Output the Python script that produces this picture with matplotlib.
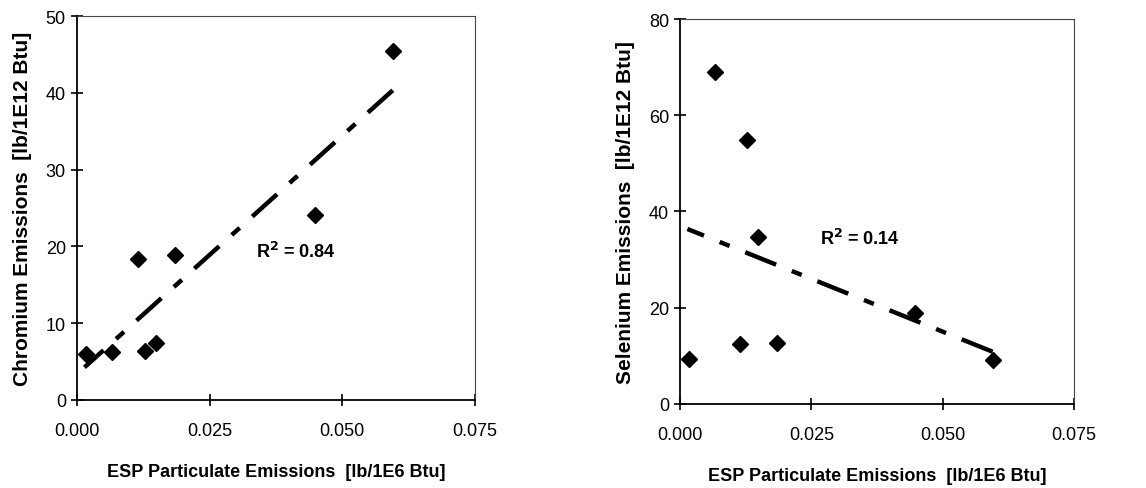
import numpy as np
import matplotlib
matplotlib.use("Agg")
import matplotlib.pyplot as plt

plt.rcParams['font.family'] = ['Liberation Sans', 'DejaVu Sans']

# ESP particulate emissions [lb/1E6 Btu], shared by both panels
esp = [0.0017, 0.0066, 0.0114, 0.0128, 0.0149, 0.0185, 0.0448, 0.0595]

# chromium emissions [lb/1E12 Btu]
chromium = [5.98, 6.3, 18.3, 6.4, 7.4, 18.9, 24.1, 45.4]
# selenium emissions [lb/1E12 Btu]
selenium = [9.35, 69.0, 12.5, 54.9, 34.6, 12.6, 18.9, 9.2]

x_ticks = [0.0, 0.025, 0.05, 0.075]
x_labels = ['0.000', '0.025', '0.050', '0.075']
cr_ticks = [0, 10, 20, 30, 40, 50]
se_ticks = [0, 20, 40, 60, 80]

xlabel = 'ESP Particulate Emissions  [lb/1E6 Btu]'
panels = [
    (chromium, cr_ticks, 'Chromium Emissions  [lb/1E12 Btu]', '0.84', (0.0338, 19.4)),
    (selenium, se_ticks, 'Selenium Emissions  [lb/1E12 Btu]', '0.14', (0.0266, 34.4)),
]
positions = [[0.0672, 0.180, 0.3473, 0.785], [0.5934, 0.172, 0.3438, 0.787]]

fig = plt.figure(figsize=(11.46, 4.89), dpi=100)

for (yvals, yticks, ylabel, r2, txt_pos), pos in zip(panels, positions):
    ax = fig.add_axes(pos)
    x = np.array(esp)
    y = np.array(yvals)

    ax.plot(x, y, linestyle='none', marker='D', ms=8.2, color='black', zorder=3)

    # linear trendline, drawn from the right end so it finishes on a long dash
    m, b = np.polyfit(x, y, 1)
    xf = np.array([x.max(), x.min() - 0.0003])
    ax.plot(xf, m * xf + b, color='black', lw=3.2,
            dashes=(7.5, 3.8, 2.4, 3.8), solid_capstyle='butt')

    ax.text(txt_pos[0], txt_pos[1], r'R$^\mathbf{2}$ = ' + r2,
            fontsize=13, fontweight='bold', va='center', ha='left')

    ax.set_xlim(0, 0.075)
    ax.set_ylim(yticks[0], yticks[-1])
    ax.set_xticks(x_ticks)
    ax.set_xticklabels(x_labels)
    ax.set_yticks(yticks)
    ax.tick_params(direction='inout', length=8, width=1.2, labelsize=13, pad=4)
    ax.tick_params(axis='x', pad=12)

    ax.spines['left'].set_linewidth(1.3)
    ax.spines['bottom'].set_linewidth(1.3)
    for s in ['top', 'right']:
        ax.spines[s].set_linewidth(0.8)
        ax.spines[s].set_color('#444444')

    ax.set_xlabel(xlabel, fontsize=13, fontweight='bold', labelpad=17)
    ax.set_ylabel(ylabel, fontsize=15, fontweight='bold', labelpad=10)

fig.savefig('out.png', dpi=100)
